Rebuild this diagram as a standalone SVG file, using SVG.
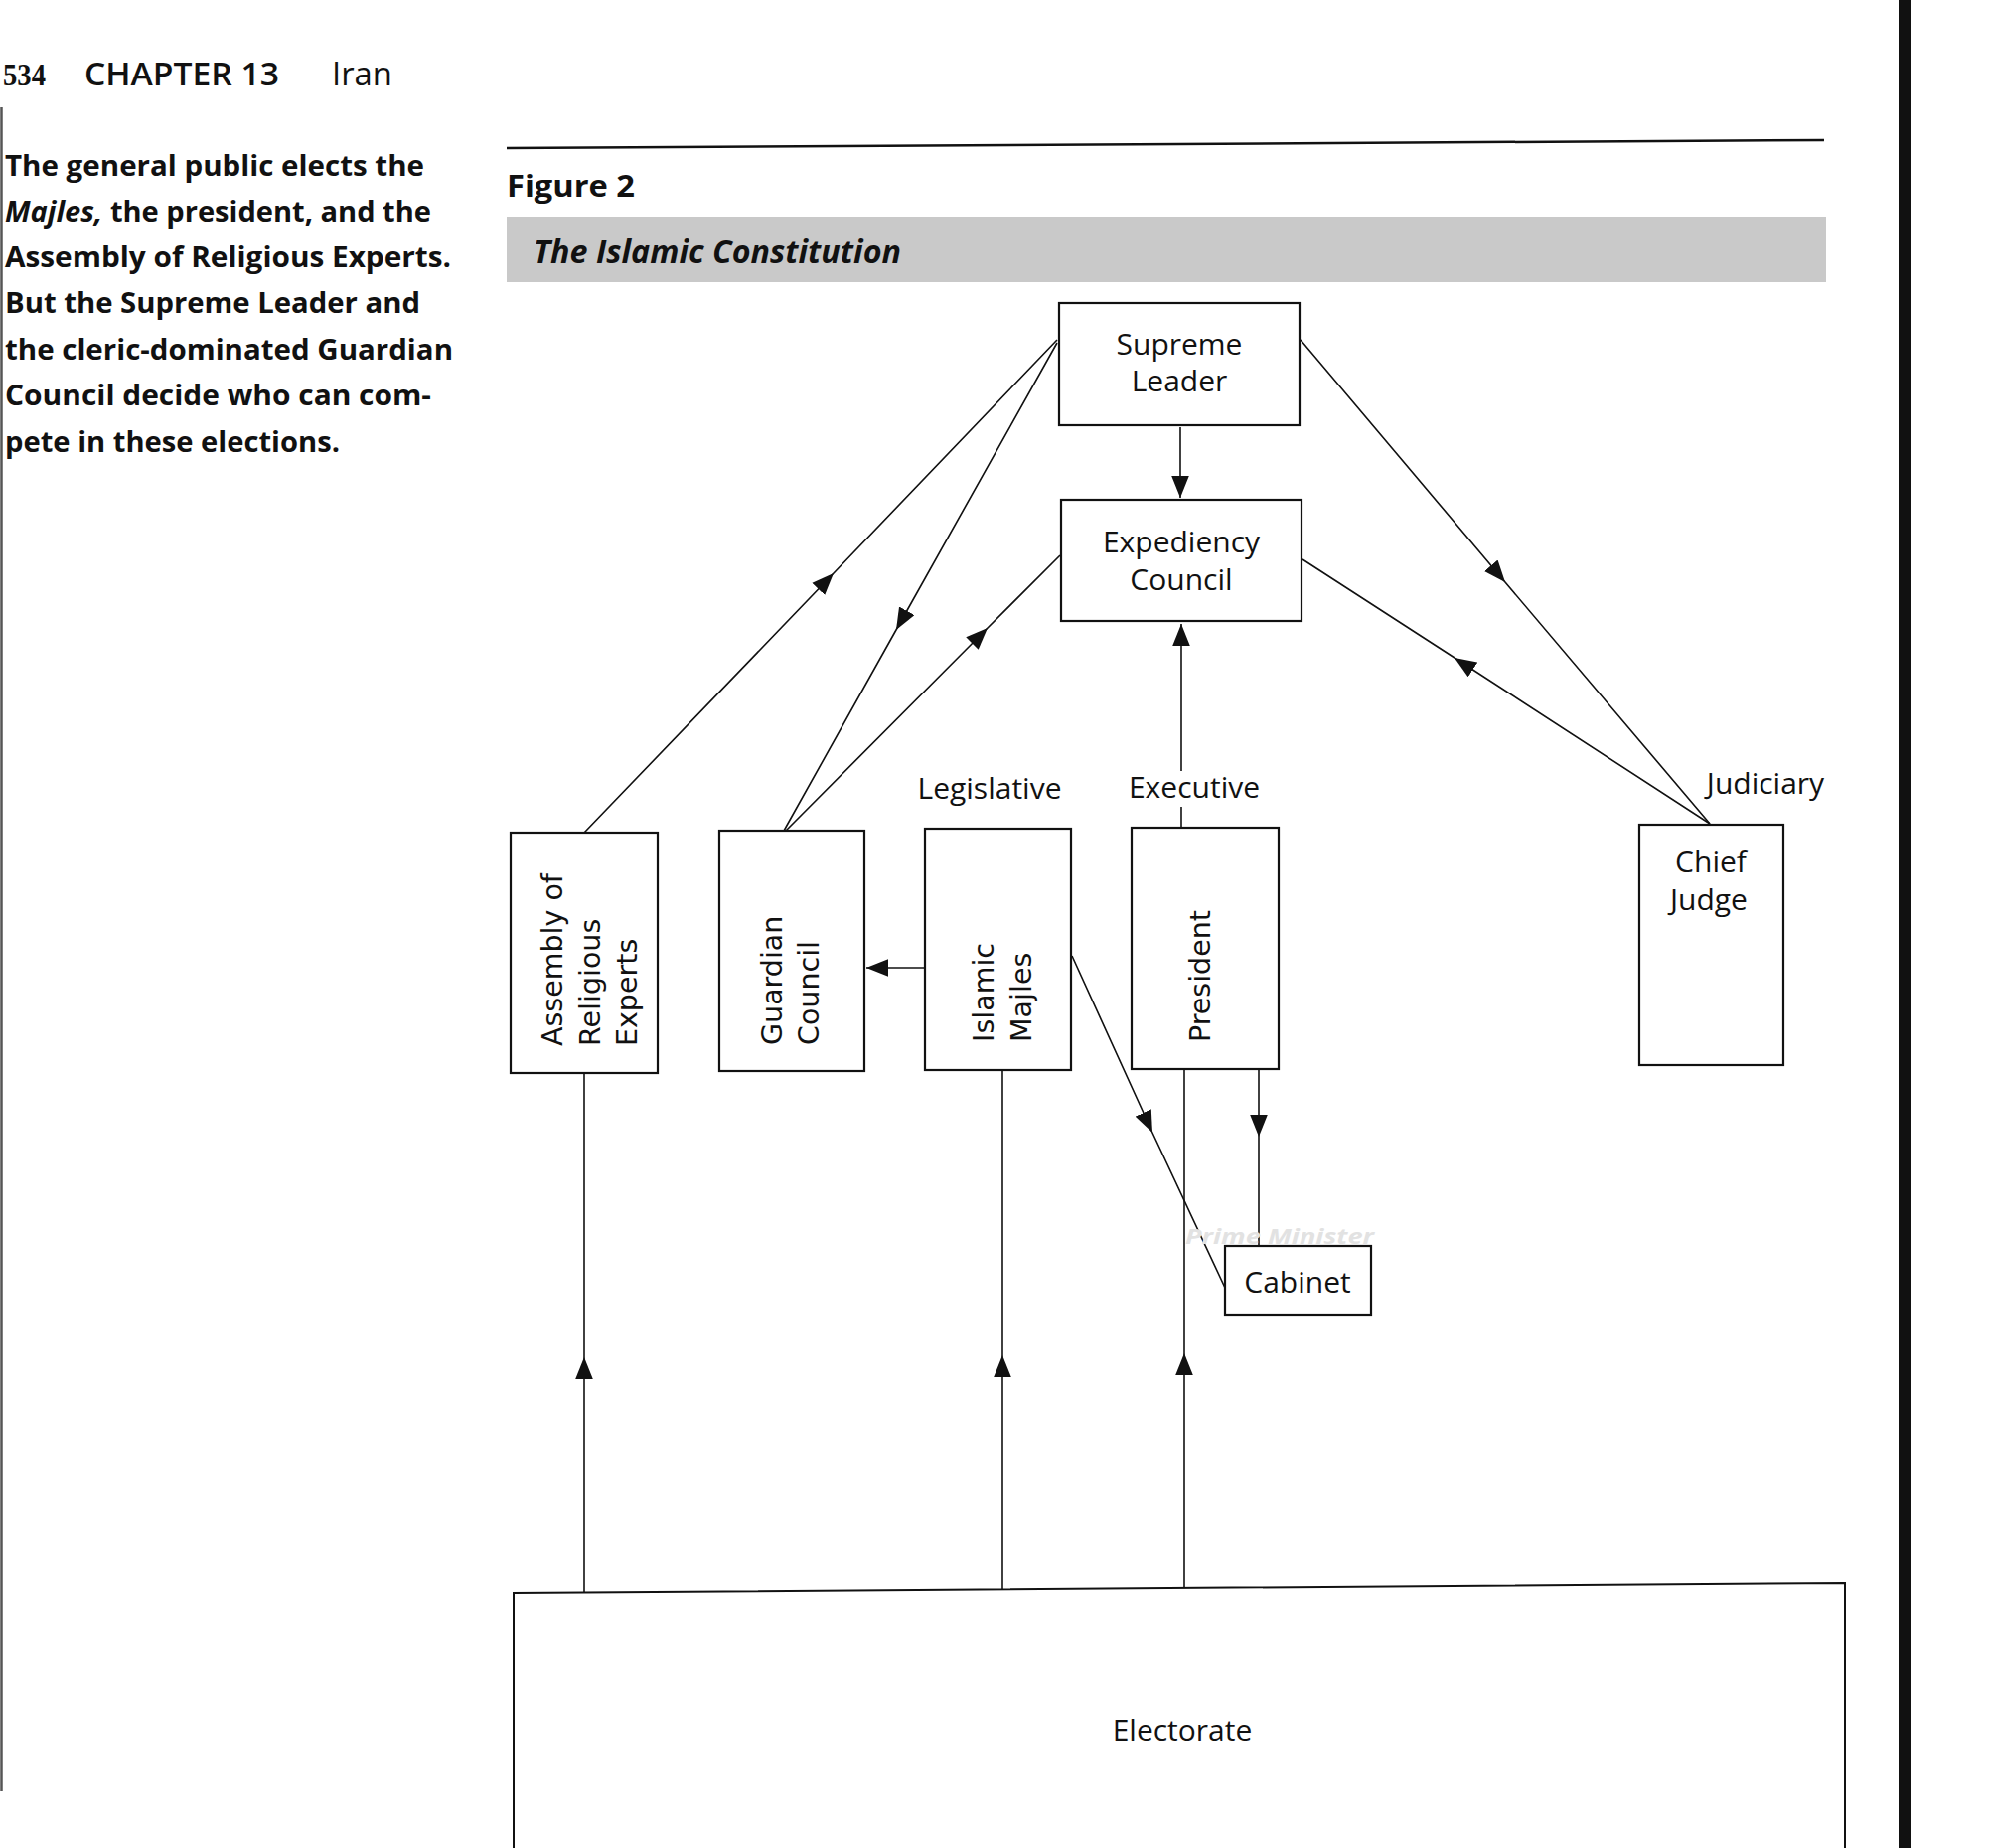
<svg xmlns="http://www.w3.org/2000/svg" width="2004" height="1860" viewBox="0 0 2004 1860">
<style>
.box{fill:#fff;stroke:#111;stroke-width:2.2}
.ln{fill:none;stroke:#111;stroke-width:1.6}
.lbl{font-family:"Open Sans","Liberation Sans",sans-serif;font-size:30px;fill:#111}
.vlbl{font-family:"DejaVu Sans","Liberation Sans",sans-serif;font-size:28.5px;fill:#111}
.side{font-family:"Open Sans","Liberation Sans",sans-serif;font-size:29px;font-weight:bold;fill:#111}
</style>
<defs>
<marker id="ah" markerUnits="userSpaceOnUse" markerWidth="22" markerHeight="18" viewBox="0 0 20 16" refX="20" refY="8" orient="auto">
<path d="M0,0 L20,8 L0,16 z" fill="#111"/>
</marker>
</defs>
<rect x="0" y="0" width="2004" height="1860" fill="#fff"/>

<g id="page">
<text x="3" y="86" font-family="Liberation Serif,serif" font-weight="bold" font-size="32" textLength="43" lengthAdjust="spacingAndGlyphs" fill="#111">534</text>
<text x="85" y="86" font-family="Open Sans,Liberation Sans,sans-serif" font-weight="600" font-size="32" textLength="196" lengthAdjust="spacingAndGlyphs" fill="#111">CHAPTER 13</text>
<text x="334" y="86" font-family="Open Sans,Liberation Sans,sans-serif" font-size="32" textLength="61" lengthAdjust="spacingAndGlyphs" fill="#111">Iran</text>
<line x1="1.5" y1="108" x2="1.5" y2="1803" stroke="#555" stroke-width="2.5"/>
<text class="side" x="5" y="177" textLength="422" lengthAdjust="spacingAndGlyphs">The general public elects the</text>
<text class="side" x="5" y="223" textLength="429" lengthAdjust="spacingAndGlyphs"><tspan font-style="italic">Majles,</tspan> the president, and the</text>
<text class="side" x="5" y="269" textLength="449" lengthAdjust="spacingAndGlyphs">Assembly of Religious Experts.</text>
<text class="side" x="5" y="315" textLength="418" lengthAdjust="spacingAndGlyphs">But the Supreme Leader and</text>
<text class="side" x="5" y="362" textLength="451" lengthAdjust="spacingAndGlyphs">the cleric-dominated Guardian</text>
<text class="side" x="5" y="408" textLength="429" lengthAdjust="spacingAndGlyphs">Council decide who can com-</text>
<text class="side" x="5" y="455" textLength="337" lengthAdjust="spacingAndGlyphs">pete in these elections.</text>
<line x1="510" y1="149" x2="1836" y2="141" stroke="#111" stroke-width="2.5"/>
<text x="510" y="198" font-family="Open Sans,Liberation Sans,sans-serif" font-weight="bold" font-size="31" textLength="129" lengthAdjust="spacingAndGlyphs" fill="#111">Figure 2</text>
<rect x="510" y="218" width="1328" height="66" fill="#c9c9c9"/>
<text x="537" y="265" font-family="Open Sans,Liberation Sans,sans-serif" font-weight="bold" font-style="italic" font-size="33" textLength="370" lengthAdjust="spacingAndGlyphs" fill="#111">The Islamic Constitution</text>
<rect x="1911" y="0" width="12" height="1860" fill="#111"/>
</g>

<g id="connectors">
<path class="ln" d="M588,838 L839,577 L1064,342" marker-mid="url(#ah)"/>
<path class="ln" d="M1064,345 L902,634 L789,836" marker-mid="url(#ah)"/>
<path class="ln" d="M791,836 L994,632 L1067,559" marker-mid="url(#ah)"/>
<path class="ln" d="M1309,342 L1515,586 L1721,829" marker-mid="url(#ah)"/>
<path class="ln" d="M1721,829 L1464,662 L1311,563" marker-mid="url(#ah)"/>
<path class="ln" d="M1188,430 L1188,501" marker-end="url(#ah)"/>
<path class="ln" d="M1189,833 L1189,812"/>
<path class="ln" d="M1189,776 L1189,628" marker-end="url(#ah)"/>
<path class="ln" d="M931,974 L872,974" marker-end="url(#ah)"/>
<path class="ln" d="M1079,962 L1160,1140 L1233,1296" marker-mid="url(#ah)"/>
<path class="ln" d="M1267,1076 L1267,1144 L1267,1254" marker-mid="url(#ah)"/>
<path class="ln" d="M588,1603 L588,1366 L588,1080" marker-mid="url(#ah)"/>
<path class="ln" d="M1009,1599 L1009,1364 L1009,1077" marker-mid="url(#ah)"/>
<path class="ln" d="M1192,1597 L1192,1362 L1192,1076" marker-mid="url(#ah)"/>
</g>

<g id="n-supreme">
<rect class="box" x="1066" y="305" width="242" height="123"/>
<text class="lbl" x="1187" y="357" text-anchor="middle">Supreme</text>
<text class="lbl" x="1187" y="394" text-anchor="middle">Leader</text>
</g>
<g id="n-expediency">
<rect class="box" x="1068" y="503" width="242" height="122"/>
<text class="lbl" x="1189" y="556" text-anchor="middle">Expediency</text>
<text class="lbl" x="1189" y="594" text-anchor="middle">Council</text>
</g>
<g id="n-assembly">
<rect class="box" x="514" y="838" width="148" height="242"/>
<text class="vlbl" transform="translate(566,1053) rotate(-90)">Assembly of</text>
<text class="vlbl" transform="translate(604,1053) rotate(-90)">Religious</text>
<text class="vlbl" transform="translate(641,1053) rotate(-90)">Experts</text>
</g>
<g id="n-guardian">
<rect class="box" x="724" y="836" width="146" height="242"/>
<text class="vlbl" transform="translate(787,1052) rotate(-90)">Guardian</text>
<text class="vlbl" transform="translate(824,1052) rotate(-90)">Council</text>
</g>
<g id="n-majles">
<rect class="box" x="931" y="834" width="147" height="243"/>
<text class="vlbl" transform="translate(1000,1049) rotate(-90)">Islamic</text>
<text class="vlbl" transform="translate(1038,1049) rotate(-90)">Majles</text>
</g>
<g id="n-president">
<rect class="box" x="1139" y="833" width="148" height="243"/>
<text class="vlbl" transform="translate(1218,1049) rotate(-90)">President</text>
</g>
<g id="n-chief">
<rect class="box" x="1650" y="830" width="145" height="242"/>
<text class="lbl" x="1722" y="878" text-anchor="middle">Chief</text>
<text class="lbl" x="1720" y="916" text-anchor="middle">Judge</text>
</g>
<g id="n-cabinet">
<text x="1193" y="1252" font-family="Open Sans,Liberation Sans,sans-serif" font-weight="bold" font-style="italic" font-size="22" textLength="190" lengthAdjust="spacingAndGlyphs" fill="#e2e2e2">Prime Minister</text>
<rect class="box" x="1233" y="1254" width="147" height="70"/>
<text class="lbl" x="1306" y="1301" text-anchor="middle" font-size="31">Cabinet</text>
</g>
<g id="n-electorate">
<path d="M517,1870 L517,1603 L1857,1593 L1857,1870" fill="#fff" stroke="#111" stroke-width="2"/>
<text class="lbl" x="1190" y="1752" text-anchor="middle">Electorate</text>
</g>
<g id="branch-labels">
<text class="lbl" x="996" y="804" text-anchor="middle">Legislative</text>
<text class="lbl" x="1202" y="803" text-anchor="middle">Executive</text>
<text class="lbl" x="1777" y="799" text-anchor="middle" font-size="29">Judiciary</text>
</g>
</svg>
